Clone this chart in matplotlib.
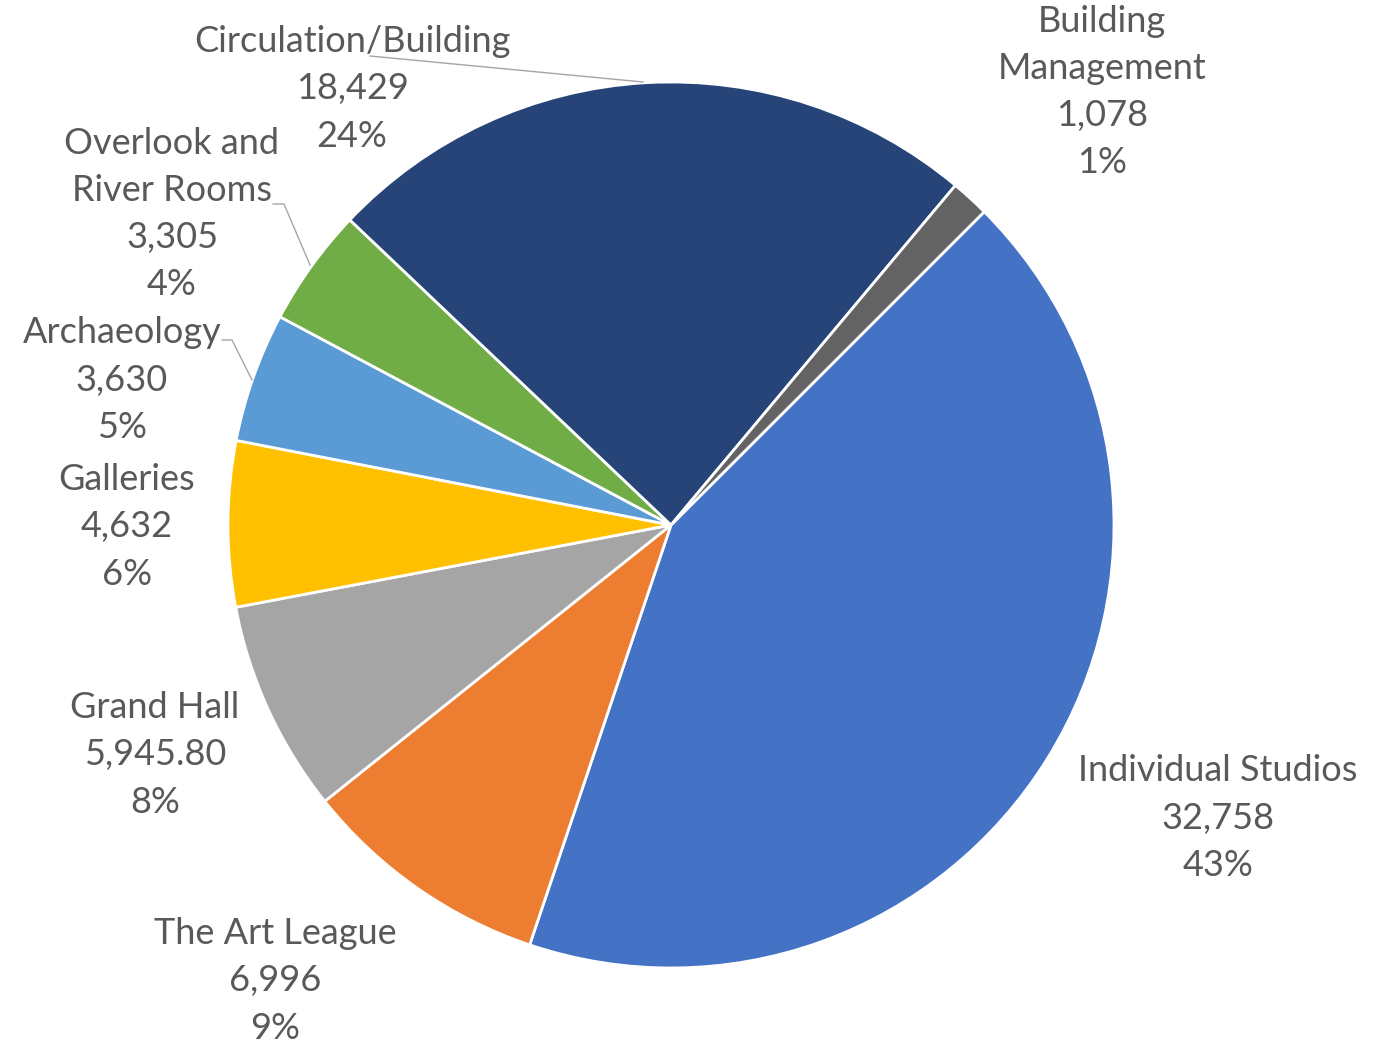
import numpy as np
import matplotlib
matplotlib.use("Agg")
from matplotlib import pyplot as plt

# Slice data, in clockwise order starting at the Individual Studios edge
names = ["Individual Studios", "The Art League", "Grand Hall", "Galleries",
         "Archaeology", "Overlook and\nRiver Rooms", "Circulation/Building",
         "Building\nManagement"]
values = [32758, 6996, 5945.80, 4632, 3630, 3305, 18429, 1078]
value_text = ["32,758", "6,996", "5,945.80", "4,632", "3,630", "3,305",
              "18,429", "1,078"]
colors = ["#4472C4", "#ED7D31", "#A5A5A5", "#FFC000", "#5B9BD5", "#70AD47",
          "#264478", "#636363"]

# label centres in pixels (x, y from top) of the 1386x1042 picture
label_px = [(1218, 818), (275, 981), (155, 755), (127, 527), (122, 380),
            (172, 214), (352, 89), (1102, 92)]
# leader lines (pixel points) for the small slices
leaders = {4: [(222, 340), (232, 340), (252, 380)],
           5: [(273, 204), (284, 204), (310, 265)],
           6: [(370, 56), (643, 82)]}

W, H = 1386, 1042
cx, cy, R = 671, 525, 443

fig = plt.figure(figsize=(W / 100, H / 100), dpi=100)
ax = fig.add_axes([0, 0, 1, 1])

ax.pie(values, colors=colors, startangle=45, counterclock=False, radius=1,
       wedgeprops=dict(edgecolor="white", linewidth=2))


def to_data(px, py):
    return (px - cx) / R, (cy - py) / R


total = sum(values)
for i, name in enumerate(names):
    pct = "{:.0f}%".format(values[i] / total * 100)
    x, y = to_data(*label_px[i])
    ax.text(x, y, name + "\n" + value_text[i] + "\n" + pct, ha="center",
            va="center", fontsize=26, color="#595959", family="Lato",
            linespacing=1.52)

for pts in leaders.values():
    xy = np.array([to_data(*p) for p in pts])
    ax.plot(xy[:, 0], xy[:, 1], color="#A6A6A6", linewidth=1)

ax.set_xlim(-cx / R, (W - cx) / R)
ax.set_ylim(-(H - cy) / R, cy / R)
ax.set_aspect("equal")
ax.axis("off")

fig.savefig("out.png", dpi=100, facecolor="white")
